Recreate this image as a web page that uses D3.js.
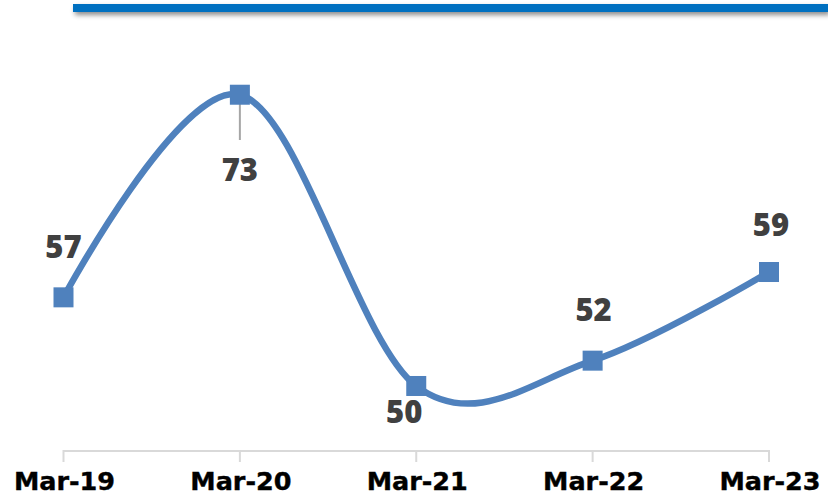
<!DOCTYPE html>
<html lang="en">
  <head>
    <meta charset="utf-8" />
    <title>Mar-19 to Mar-23</title>
    <style>
      html,
      body {
        margin: 0;
        padding: 0;
        background: #ffffff;
      }

      .tick-label {
        font-family: "DejaVu Sans", sans-serif;
        font-weight: bold;
        font-size: 25.5px;
        fill: #000000;
        stroke: #000000;
        stroke-width: 0.4px;
      }

      .data-label {
        font-family: "Open Sans", sans-serif;
        font-weight: 800;
        font-size: 31px;
        fill: #404040;
      }
    </style>
    <script src="https://d3js.org/d3.v7.min.js"></script>
  </head>

  <body>
    <svg width="828" height="502"></svg>

    <script>
      // chart data
      var periods = ["Mar-19", "Mar-20", "Mar-21", "Mar-22", "Mar-23"];
      var values = [57, 73, 50, 52, 59];
      var yDomain = [45, 75];

      var svg = d3.select("svg"),
        width = +svg.attr("width"),
        height = +svg.attr("height");

      // shadow for the header bar
      var defs = svg.append("defs");
      defs
        .append("filter")
        .attr("id", "barShadow")
        .attr("x", "-5%")
        .attr("y", "-100%")
        .attr("width", "110%")
        .attr("height", "400%")
        .append("feDropShadow")
        .attr("dx", 2)
        .attr("dy", 3)
        .attr("stdDeviation", 2.5)
        .attr("flood-color", "#000")
        .attr("flood-opacity", 0.45);

      // blue header bar across the top
      svg
        .append("rect")
        .attr("x", 73)
        .attr("y", 4)
        .attr("width", width - 73)
        .attr("height", 8)
        .attr("fill", "#0070C0")
        .attr("filter", "url(#barShadow)");

      var x = d3.scalePoint().domain(periods).range([63.5, 769]);
      var y = d3.scaleLinear().domain(yDomain).range([449.3, 69.4]);

      // category axis
      var axisY = 451;
      var axis = svg.append("g").attr("transform", `translate(0,${axisY})`);
      axis
        .append("line")
        .attr("x1", x(periods[0]))
        .attr("x2", x(periods[periods.length - 1]))
        .attr("stroke", "#d9d9d9")
        .attr("stroke-width", 2);

      axis
        .selectAll(".tick")
        .data(periods)
        .enter()
        .append("line")
        .attr("class", "tick")
        .attr("x1", (d) => x(d))
        .attr("x2", (d) => x(d))
        .attr("y1", -1)
        .attr("y2", 11)
        .attr("stroke", "#d9d9d9")
        .attr("stroke-width", 2);

      axis
        .selectAll(".tick-label")
        .data(periods)
        .enter()
        .append("text")
        .attr("class", "tick-label")
        .attr("x", (d) => x(d) + 1)
        .attr("y", 39)
        .attr("text-anchor", "middle")
        .text((d) => d);

      var points = periods.map((p, i) => [x(p), y(values[i])]);

      // smoothed line (Excel style smoothing = uniform Catmull-Rom)
      var line = d3.line().curve(d3.curveCardinal.tension(0));
      svg
        .append("path")
        .attr("d", line(points))
        .attr("fill", "none")
        .attr("stroke", "#4F81BD")
        .attr("stroke-width", 6.5)
        .attr("stroke-linecap", "round");

      // leader line for the Mar-20 label
      svg
        .append("line")
        .attr("x1", points[1][0])
        .attr("x2", points[1][0])
        .attr("y1", points[1][1])
        .attr("y2", 140)
        .attr("stroke", "#a6a6a6")
        .attr("stroke-width", 2);

      // square markers
      svg
        .selectAll(".marker")
        .data(points)
        .enter()
        .append("rect")
        .attr("class", "marker")
        .attr("x", (d) => d[0] - 10)
        .attr("y", (d) => d[1] - 10)
        .attr("width", 20)
        .attr("height", 20)
        .attr("fill", "#4F81BD");

      // label offsets from the marker (dx, baseline dy)
      var labelOffset = [
        [0, -39],
        [0, 86],
        [-12, 37],
        [1, -40],
        [2, -36],
      ];

      svg
        .selectAll(".data-label")
        .data(points)
        .enter()
        .append("text")
        .attr("class", "data-label")
        .attr("x", (d, i) => d[0] + labelOffset[i][0])
        .attr("y", (d, i) => d[1] + labelOffset[i][1])
        .attr("text-anchor", "middle")
        .text((d, i) => values[i]);
    </script>
  </body>
</html>
